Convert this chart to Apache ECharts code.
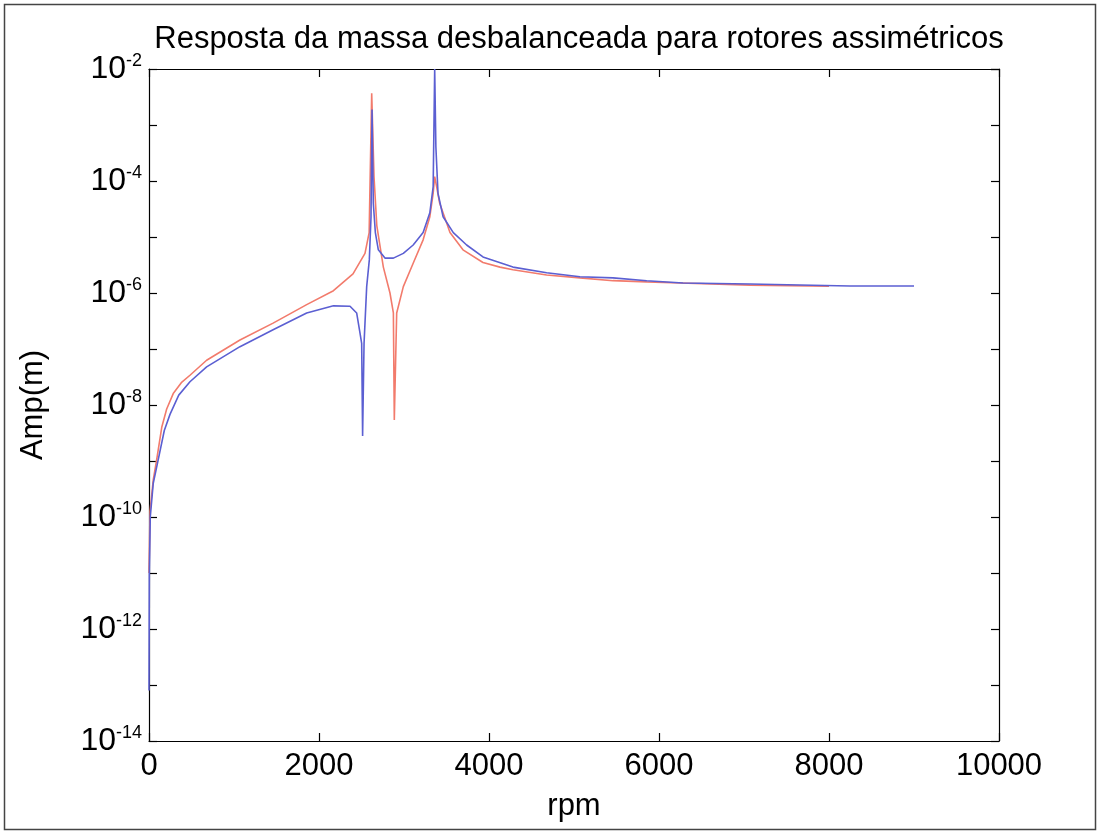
<!DOCTYPE html>
<html>
<head>
<meta charset="utf-8">
<script src="https://cdn.jsdelivr.net/npm/echarts@6/dist/echarts.min.js"></script>
<style>
  html, body { margin: 0; padding: 0; background: #fff; }
  #chart { width: 1100px; height: 834px; }
</style>
</head>
<body>
<div id="chart"></div>
<script>
// Unbalanced-mass response of an asymmetric rotor: amplitude (m) vs speed (rpm)
const titleText = 'Resposta da massa desbalanceada para rotores assimétricos';
const xName = 'rpm';
const yName = 'Amp(m)';
const xTicks = [0, 2000, 4000, 6000, 8000, 10000];
const yExponents = [-14, -12, -10, -8, -6, -4, -2];

// Blue response: [rpm, amplitude]
const rpmBlue = [0, 4, 15, 50, 108, 180, 247, 350, 482, 678, 1070, 1460, 1855, 2170, 2365, 2443, 2482, 2502, 2513, 2530,
  2561, 2592, 2612, 2624, 2639, 2663, 2698, 2776, 2875, 2992, 3108, 3225, 3304, 3343, 3361, 3375, 3400,
  3460, 3580, 3737, 3929, 4282, 4678, 5070, 5459, 5855, 6282, 7070, 8247, 9000];
const ampBlue = [8e-14, 1e-11, 1e-10, 4e-10, 1.05e-9, 3.5e-9, 6.8e-9, 1.5e-8, 2.6e-8, 4.8e-8, 1.1e-7, 2.2e-7, 4.4e-7, 5.9e-7, 5.8e-7,
  4.4e-7, 1.95e-7, 1.26e-7, 2.8e-9, 1.26e-7, 1.3e-6, 3.9e-6, 2.3e-5, 1.9e-3, 4e-5, 1.2e-5, 5.9e-6, 4.2e-6,
  4.2e-6, 5.1e-6, 7.2e-6, 1.2e-5, 2.7e-5, 7.9e-5, 1e-2, 4.1e-4, 6e-5, 2.3e-5, 1.2e-5, 7.2e-6, 4.4e-6,
  2.9e-6, 2.3e-6, 1.95e-6, 1.86e-6, 1.66e-6, 1.51e-6, 1.45e-6, 1.33e-6, 1.33e-6];

// Red response: [rpm, amplitude]
const rpmRed = [0, 12, 50, 90, 150, 208, 285, 380, 482, 678, 1070, 1460, 1855, 2170, 2400, 2541, 2590, 2620, 2647, 2680,
  2757, 2835, 2875, 2886, 2914, 2992, 3108, 3225, 3304, 3343, 3361, 3384, 3420, 3541, 3694, 3929, 4129,
  4282, 4678, 5070, 5459, 5855, 6247, 7070, 8000];
const ampRed = [1e-11, 1.26e-10, 4.6e-10, 1.05e-9, 4e-9, 8.5e-9, 1.6e-8, 2.5e-8, 3.4e-8, 6.3e-8, 1.45e-7, 2.9e-7, 6.2e-7, 1.1e-6,
  2.2e-6, 5.1e-6, 1.2e-5, 3.7e-3, 1.2e-4, 1.6e-5, 2.9e-6, 1e-6, 4.4e-7, 5.4e-9, 4.4e-7, 1.3e-6, 3.4e-6,
  8.9e-6, 2.3e-5, 6e-5, 1.2e-4, 7.9e-5, 4e-5, 1.2e-5, 5.9e-6, 3.5e-6, 2.9e-6, 2.6e-6, 2.1e-6, 1.86e-6,
  1.66e-6, 1.58e-6, 1.51e-6, 1.38e-6, 1.32e-6];

const FONT = '"Liberation Sans", Arial, sans-serif';
const pair = (xs, ys) => xs.map((x, i) => [x, ys[i]]);

const yMin = Math.pow(10, yExponents[0]);
const yMax = Math.pow(10, yExponents[yExponents.length - 1]);

function powLabel(v) {
  const e = Math.round(Math.log10(v));
  if (!yExponents.includes(e)) return '';
  return '{b|10}{s|' + e + '}';
}

const tickStyle = { show: true, inside: true, length: 8, lineStyle: { color: '#000', width: 1.2 } };
const lineStyle = { color: '#000', width: 1.2 };
const axisLine = { show: true, onZero: false, lineStyle };

const chart = echarts.init(document.getElementById('chart'), null, { renderer: 'canvas' });
chart.setOption({
  animation: false,
  backgroundColor: '#fff',
  title: {
    text: titleText,
    left: 574,
    top: 19,
    textAlign: 'center',
    textStyle: { fontFamily: FONT, fontSize: 31, fontWeight: 'normal', color: '#000' }
  },
  graphic: [{
    type: 'rect',
    shape: { x: 4.5, y: 4.5, width: 1091, height: 825 },
    style: { fill: 'none', stroke: '#444', lineWidth: 1.5 },
    silent: true
  }],
  grid: { left: 149, right: 101, top: 69, bottom: 93, containLabel: false },
  xAxis: [{
    type: 'value', position: 'bottom',
    min: xTicks[0], max: xTicks[xTicks.length - 1], interval: xTicks[1] - xTicks[0],
    name: xName, nameLocation: 'middle', nameGap: 50,
    nameTextStyle: { fontFamily: FONT, fontSize: 31, color: '#000' },
    axisLine,
    axisTick: tickStyle,
    splitLine: { show: false },
    axisLabel: { fontFamily: FONT, fontSize: 31, color: '#000', margin: 10, formatter: v => String(v) }
  }, {
    type: 'value', position: 'top',
    min: xTicks[0], max: xTicks[xTicks.length - 1], interval: xTicks[1] - xTicks[0],
    axisLine,
    axisTick: tickStyle,
    splitLine: { show: false },
    axisLabel: { show: false }
  }],
  yAxis: [{
    type: 'log', logBase: 10, min: yMin, max: yMax, interval: 1, position: 'left',
    name: yName, nameLocation: 'middle', nameGap: 100, nameRotate: 90,
    nameTextStyle: { fontFamily: FONT, fontSize: 31, color: '#000' },
    axisLine,
    axisTick: tickStyle,
    splitLine: { show: false },
    axisLabel: {
      margin: 7,
      formatter: powLabel,
      rich: {
        b: { fontFamily: FONT, fontSize: 32, color: '#000' },
        s: { fontFamily: FONT, fontSize: 18, color: '#000', verticalAlign: 'top', padding: [0, 0, 16, 0] }
      }
    }
  }, {
    type: 'log', logBase: 10, min: yMin, max: yMax, interval: 1, position: 'right',
    axisLine,
    axisTick: tickStyle,
    splitLine: { show: false },
    axisLabel: { show: false }
  }],
  series: [{
    type: 'line', name: 'red', data: pair(rpmRed, ampRed),
    showSymbol: false, clip: true,
    lineStyle: { color: '#f27b6c', width: 1.6 }
  }, {
    type: 'line', name: 'blue', data: pair(rpmBlue, ampBlue),
    showSymbol: false, clip: true,
    lineStyle: { color: '#5b5fd2', width: 1.6 }
  }]
});
</script>
</body>
</html>
